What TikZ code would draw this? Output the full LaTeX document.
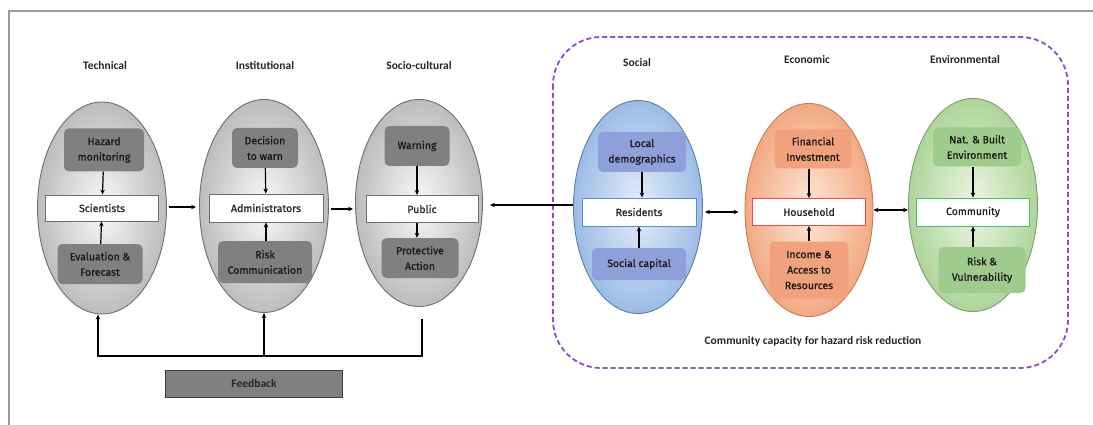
\documentclass[tikz,border=0pt]{standalone}
\usepackage{fontspec}
\setmainfont{Carlito}
\newfontfamily\boxfont[FakeBold=0.9]{Fira Sans}
\usetikzlibrary{arrows.meta,shapes.geometric,calc}

\definecolor{frameGray}{HTML}{9A9A9A}
\definecolor{boxGray}{HTML}{808080}
\definecolor{edgeGray}{HTML}{6E6E6E}
\definecolor{blueIn}{HTML}{E4EDF9}
\definecolor{blueOut}{HTML}{9CBCE6}
\definecolor{blueEdge}{HTML}{5C7CA8}
\definecolor{blueBox}{HTML}{8E9FDA}
\definecolor{blueLine}{HTML}{5A8AD8}
\definecolor{orIn}{HTML}{FDE7D8}
\definecolor{orOut}{HTML}{F2AA82}
\definecolor{orEdge}{HTML}{C87A50}
\definecolor{orBox}{HTML}{F2A17D}
\definecolor{redLine}{HTML}{F04848}
\definecolor{grIn}{HTML}{ECF6E4}
\definecolor{grOut}{HTML}{AED59A}
\definecolor{grEdge}{HTML}{7C9C6C}
\definecolor{grBox}{HTML}{9FCB8C}
\definecolor{grLine}{HTML}{48C06A}
\definecolor{dashPurple}{HTML}{8A4CC8}

\tikzset{
  title/.style={font=\bfseries\fontsize{11.5}{13}\selectfont, text=black!85},
  pillar/.style={ellipse, minimum width=129pt, minimum height=212pt, line width=0.9pt},
  greyPillar/.style={pillar, draw=edgeGray, inner color=gray!5, outer color=gray!52},
  bluePillar/.style={pillar, draw=blueEdge, inner color=blueIn, outer color=blueOut},
  orPillar/.style={pillar, draw=orEdge, inner color=orIn, outer color=orOut},
  grPillar/.style={pillar, draw=grEdge, inner color=grIn, outer color=grOut},
  factor/.style={rounded corners=5pt, align=center, inner sep=0pt,
    font=\boxfont\fontsize{10.5}{15.5}\selectfont, text=black!90},
  greyFactor/.style={factor, fill=boxGray},
  blueFactor/.style={factor, fill=blueBox},
  orFactor/.style={factor, fill=orBox},
  grFactor/.style={factor, fill=grBox},
  actor/.style={fill=white, minimum height=26pt, inner sep=0pt, line width=0.9pt,
    font=\boxfont\fontsize{10.5}{12}\selectfont, text=black!85},
  arr/.style={line width=1.2pt, -{Stealth[length=5pt,width=4.5pt]}},
  dblarr/.style={line width=1.2pt, {Stealth[length=5pt,width=4.5pt]}-{Stealth[length=5pt,width=4.5pt]}},
}

\begin{document}
\begin{tikzpicture}[x=1pt, y=-1pt]
\useasboundingbox (0,0) rectangle (1093,425);

% outer frame (open to the right and bottom)
\draw[frameGray, line width=1.6pt] (9,425) -- (9,11) -- (1093,11);

% community capacity frame
\draw[dashPurple, line width=1.8pt, dash pattern=on 5pt off 3pt, rounded corners=48pt]
  (553,37) rectangle (1068,368);

% column titles
\node[title] (tTech) at (105,66) {Technical};
\node[title] (tInst) at (265,66) {Institutional};
\node[title] (tSoc)  at (419,66) {Socio-cultural};
\node[title] (tSocial) at (637,63) {Social};
\node[title] (tEcon)   at (807,60) {Economic};
\node[title] (tEnv)    at (965,60) {Environmental};

% pillars
\node[greyPillar] (eTech) at (102,208) {};
\node[greyPillar, minimum height=213pt] (eInst) at (264,206) {};
\node[greyPillar, minimum width=127pt, minimum height=207pt] (eSoc) at (419,203) {};
\node[bluePillar, minimum height=213pt] (eSocial) at (638,207) {};
\node[orPillar, minimum width=128pt, minimum height=213pt] (eEcon) at (809,210) {};
\node[grPillar, minimum height=213pt] (eEnv) at (973,205) {};

% technical
\node[greyFactor, minimum width=80pt, minimum height=43pt] (hazard) at (104,150) {Hazard\\monitoring};
\node[actor, draw=edgeGray, minimum width=113pt] (scient) at (102,208) {Scientists};
\node[greyFactor, minimum width=85pt, minimum height=40pt] (evalf) at (100,264) {Evaluation \&\\Forecast};

% institutional
\node[greyFactor, minimum width=66pt, minimum height=40pt] (decide) at (265,148) {Decision\\to warn};
\node[actor, draw=edgeGray, minimum width=114pt, minimum height=28pt] (admin) at (266,208) {Administrators};
\node[greyFactor, minimum width=94pt, minimum height=42pt] (riskc) at (265,262) {Risk\\Communication};

% socio-cultural
\node[greyFactor, minimum width=65pt, minimum height=40pt] (warn) at (417,146) {Warning};
\node[actor, draw=edgeGray, minimum width=112pt, minimum height=27pt] (public) at (422,209) {Public};
\node[greyFactor, minimum width=77pt, minimum height=40pt] (protect) at (420,258) {Protective\\Action};

% social
\node[blueFactor, minimum width=88pt, minimum height=40pt] (locdem) at (642,152) {Local\\demographics};
\node[actor, draw=blueLine, minimum width=114pt, minimum height=28pt] (resid) at (639,212) {Residents};
\node[blueFactor, minimum width=94pt, minimum height=32pt] (soccap) at (639,264) {Social capital};

% economic
\node[orFactor, minimum width=77pt, minimum height=39pt] (fininv) at (813,149) {Financial\\Investment};
\node[actor, draw=redLine, minimum width=113pt, minimum height=27pt] (house) at (809,212) {Household};
\node[orFactor, minimum width=79pt, minimum height=57pt] (income) at (809,270) {Income \&\\Access to\\Resources};

% environmental
\node[grFactor, minimum width=88pt, minimum height=39pt] (natb) at (977,147) {Nat. \& Built\\Environment};
\node[actor, draw=grLine, minimum width=113pt, minimum height=28pt] (commun) at (973,212) {Community};
\node[grFactor, minimum width=87pt, minimum height=46pt] (riskv) at (982,270) {Risk \&\\Vulnerability};

% vertical influences
\draw[arr] (hazard) -- (scient);
\draw[arr] (evalf) -- (scient);
\draw[arr] (decide) -- (admin);
\draw[arr] (riskc.north -| admin) -- (admin);
\draw[arr] (warn) -- (warn |- public.north);
\draw[arr] (public.south -| warn) -- (protect.north -| warn);
\draw[arr] (locdem) -- (locdem |- resid.north);
\draw[arr] (soccap) -- (resid);
\draw[arr] (fininv.south -| house) -- (house);
\draw[arr] (income) -- (house);
\draw[arr] (natb.south -| commun) -- (commun);
\draw[arr] (riskv.north -| commun) -- (commun);

% chain between pillars
\draw[arr] ([xshift=2pt]eTech.east |- 0,207) -- ([xshift=-3pt]eInst.west |- 0,207);
\draw[arr] ([xshift=2pt]eInst.east |- 0,209) -- ([xshift=-2pt]eSoc.west |- 0,209);
\draw[arr] (eSocial.west |- 0,205) -- ([xshift=7pt]eSoc.east |- 0,205);
\draw[dblarr] ([xshift=2pt]eSocial.east |- 0,212) -- ([xshift=-6pt]eEcon.west |- 0,212);
\draw[dblarr] (eEcon.east |- 0,210) -- (eEnv.west |- 0,210);

% feedback loop
\coordinate (fbS) at (422,319);
\coordinate (fbY) at (0,356);
\draw[arr] (fbS) -- (fbS |- fbY) -| ([xshift=-4pt]eTech.south);
\draw[arr] (eInst.south |- fbY) -- (eInst.south);
\node[fill=boxGray, draw=black!75, line width=0.9pt, minimum width=177pt, minimum height=27pt,
      font=\bfseries\fontsize{11.5}{13}\selectfont, text=black!85] (feedback) at (254,384) {Feedback};

% caption of the community frame
\node[title] (capt) at (813,341) {Community capacity for hazard risk reduction};
\end{tikzpicture}
\end{document}
